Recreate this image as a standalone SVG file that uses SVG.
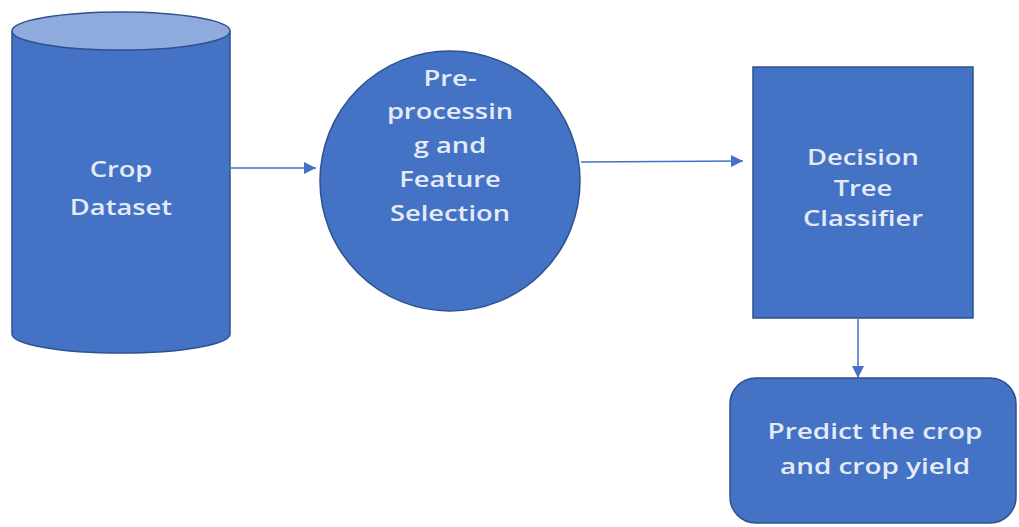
<svg xmlns="http://www.w3.org/2000/svg" width="1019" height="527" viewBox="0 0 1019 527">
<style>
.shape{fill:#4472C4;stroke:#2F528F;stroke-width:1.5}
.lbl{font-family:"Open Sans","Liberation Sans",sans-serif;font-size:21px;font-weight:600;fill:#E4EBF7;text-anchor:middle}
.conn{stroke:#4472C4;stroke-width:1.5;fill:none}
</style>
<defs>
<marker id="ah" viewBox="0 0 10 10" refX="10" refY="5" markerWidth="14" markerHeight="12" markerUnits="userSpaceOnUse" orient="auto">
<path d="M0,0 L10,5 L0,10 z" fill="#4472C4"/>
</marker>
</defs>
<rect width="1019" height="527" fill="#ffffff"/>
<g id="connectors">
<line class="conn" x1="231" y1="168" x2="316" y2="168" marker-end="url(#ah)"/>
<line class="conn" x1="581" y1="162" x2="743" y2="161" marker-end="url(#ah)"/>
<line class="conn" x1="858" y1="319" x2="858" y2="378" marker-end="url(#ah)"/>
</g>
<g id="crop-dataset">
<path class="shape" d="M12,31 L12,334 A109,19 0 0 0 230,334 L230,31"/>
<ellipse cx="121" cy="31" rx="109" ry="19" fill="#8FAADC" stroke="#2F528F" stroke-width="1.5"/>
<g transform="translate(121,0) scale(1.3,1) translate(-121,0)">
<text class="lbl" x="121" y="177">Crop</text>
<text class="lbl" x="121" y="215">Dataset</text>
</g>
</g>
<g id="preprocessing">
<circle class="shape" cx="450" cy="181" r="130"/>
<g transform="translate(450,0) scale(1.3,1) translate(-450,0)">
<text class="lbl" x="450" y="86">Pre-</text>
<text class="lbl" x="450" y="119">processin</text>
<text class="lbl" x="450" y="153">g and</text>
<text class="lbl" x="450" y="187">Feature</text>
<text class="lbl" x="450" y="221">Selection</text>
</g>
</g>
<g id="classifier">
<rect class="shape" x="753" y="67" width="220" height="251"/>
<g transform="translate(863,0) scale(1.3,1) translate(-863,0)">
<text class="lbl" x="863" y="165">Decision</text>
<text class="lbl" x="863" y="196">Tree</text>
<text class="lbl" x="863" y="226">Classifier</text>
</g>
</g>
<g id="predict">
<rect class="shape" x="730" y="378" width="286" height="145" rx="26"/>
<g transform="translate(875,0) scale(1.33,1) translate(-875,0)">
<text class="lbl" x="875" y="439">Predict the crop</text>
<text class="lbl" x="875" y="474">and crop yield</text>
</g>
</g>
</svg>
